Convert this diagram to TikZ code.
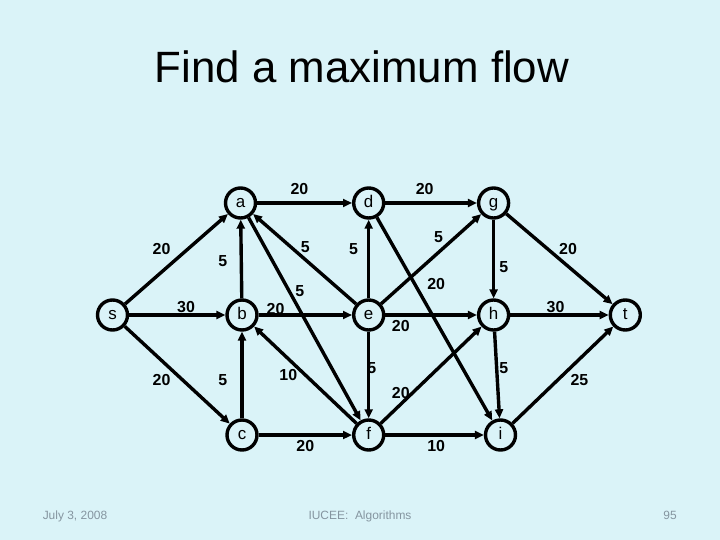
\documentclass[tikz,border=0pt]{standalone}
\usepackage{fontspec}
\setmainfont{Liberation Sans}
\usetikzlibrary{arrows.meta}
\definecolor{slide-bg}{HTML}{DAF3F8}
\definecolor{vtx-border}{HTML}{000000}
\definecolor{edge}{HTML}{000000}
\definecolor{muted}{HTML}{8595A0}
\tikzset{
  vtx/.style={
    circle, draw=vtx-border, fill=slide-bg, line width=3.4bp,
    minimum size=30bp, inner sep=0pt, text height=9bp, text depth=0pt,
    font=\fontsize{17}{17}\selectfont
  },
  flow/.style={draw=edge, line width=3.4bp, -{Triangle[length=9bp,width=8bp]}},
  capacity/.style={font=\fontsize{16}{16}\selectfont\bfseries},
  footer/.style={font=\fontsize{12}{12}\selectfont, text=muted, anchor=base}
}

\begin{document}
\begin{tikzpicture}[x=1bp, y=-1bp]

  % ---- Slide background ----------------------------------------------------
  \fill[slide-bg] (0,0) rectangle (720,540);
  \useasboundingbox (0,0) rectangle (720,540);

  % ---- Title ---------------------------------------------------------------
  \node[anchor=base, font=\fontsize{44}{44}\selectfont] (title) at (362,83)
        {Find a maximum flow};

  % ---- Vertices ------------------------------------------------------------
  \node[vtx] (s) at (112.5, 315) {s};
  \node[vtx] (a) at (240.5, 203) {a};
  \node[vtx] (b) at (242.0, 315) {b};
  \node[vtx] (c) at (242.0, 435) {c};
  \node[vtx] (d) at (368.7, 203) {d};
  \node[vtx] (e) at (368.7, 315) {e};
  \node[vtx] (f) at (368.7, 435) {f};
  \node[vtx] (g) at (493.6, 203) {g};
  \node[vtx] (h) at (493.6, 315) {h};
  \node[vtx] (i) at (500.5, 435) {i};
  \node[vtx] (t) at (625.3, 315) {t};

  % ---- Edges ---------------------------------------------------------------
  \draw[flow] (s) -- (a);
  \draw[flow] (s) -- (b);
  \draw[flow] (s) -- (c);
  \draw[flow] (b) -- (a);
  \draw[flow] (c) -- (b);
  \draw[flow] (a) -- (d);
  \draw[flow] (a) -- (f);
  \draw[flow] (b) -- (e);
  \draw[flow] (c) -- (f);
  \draw[flow] (e) -- (a);
  \draw[flow] (f) -- (b);
  \draw[flow] (d) -- (g);
  \draw[flow] (d) -- (i);
  \draw[flow] (e) -- (d);
  \draw[flow] (e) -- (g);
  \draw[flow] (e) -- (h);
  \draw[flow] (e) -- (f);
  \draw[flow] (f) -- (h);
  \draw[flow] (f) -- (i);
  \draw[flow] (g) -- (h);
  \draw[flow] (g) -- (t);
  \draw[flow] (h) -- (t);
  \draw[flow] (h) -- (i);
  \draw[flow] (i) -- (t);

  % ---- Capacities ----------------------------------------------------------
  \node[capacity] (c-sa) at (161.6, 248.6) {20};
  \node[capacity] (c-sb) at (186.0, 307.0) {30};
  \node[capacity] (c-sc) at (161.6, 380.5) {20};
  \node[capacity] (c-ba) at (222.7, 260.7) {5};
  \node[capacity] (c-cb) at (222.7, 380.5) {5};
  \node[capacity] (c-ad) at (299.4, 188.7) {20};
  \node[capacity] (c-dg) at (424.7, 188.7) {20};
  \node[capacity] (c-ea) at (305.3, 246.6) {5};
  \node[capacity] (c-ed) at (353.5, 248.6) {5};
  \node[capacity] (c-eg) at (438.5, 236.9) {5};
  \node[capacity] (c-af) at (299.8, 291.0) {5};
  \node[capacity] (c-be) at (275.5, 308.9) {20};
  \node[capacity] (c-di) at (436.2, 284.0) {20};
  \node[capacity] (c-eh) at (400.8, 326.4) {20};
  \node[capacity] (c-ef) at (371.9, 368.5) {5};
  \node[capacity] (c-fb) at (288.3, 375.3) {10};
  \node[capacity] (c-fh) at (400.8, 392.6) {20};
  \node[capacity] (c-cf) at (305.3, 446.0) {20};
  \node[capacity] (c-fi) at (436.2, 446.0) {10};
  \node[capacity] (c-gh) at (503.7, 266.9) {5};
  \node[capacity] (c-gt) at (568.0, 248.6) {20};
  \node[capacity] (c-ht) at (555.6, 307.0) {30};
  \node[capacity] (c-hi) at (503.7, 368.5) {5};
  \node[capacity] (c-it) at (579.4, 380.5) {25};

  % ---- Footer --------------------------------------------------------------
  \node[footer] (date)  at (75, 519)  {July 3, 2008};
  \node[footer] (event) at (360, 519) {IUCEE:\ \ Algorithms};
  \node[footer] (page)  at (670, 519) {95};

\end{tikzpicture}
\end{document}
